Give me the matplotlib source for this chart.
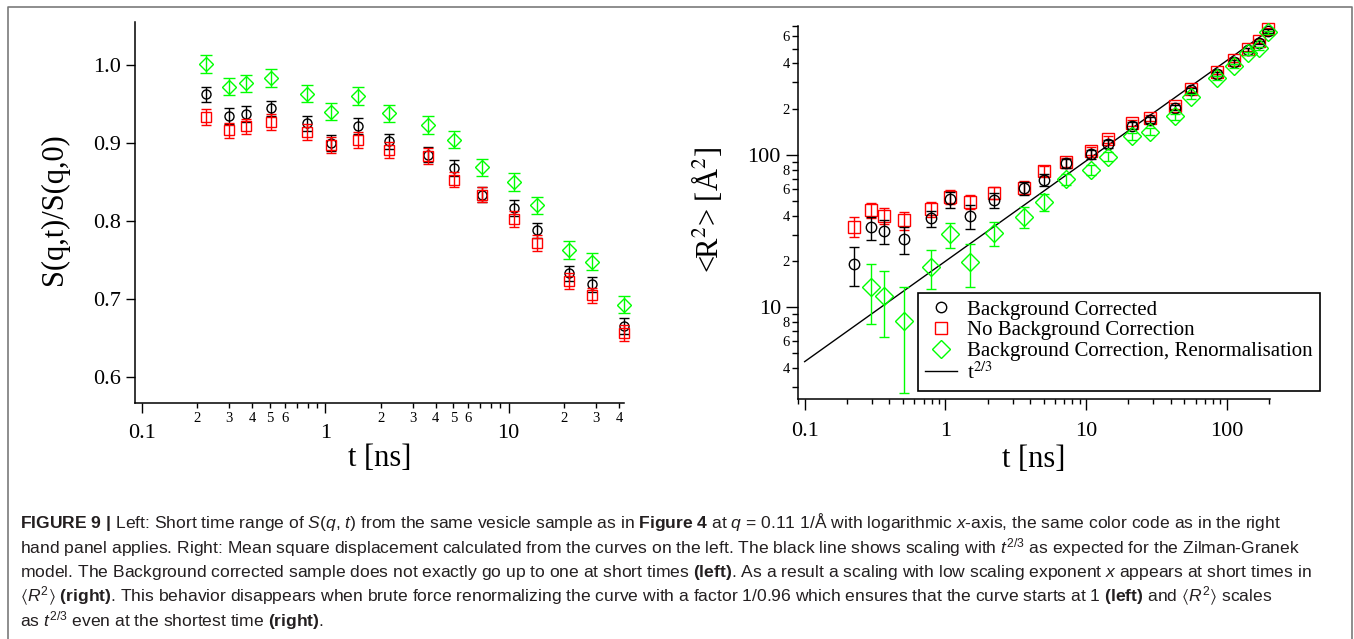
import numpy as np
import matplotlib
matplotlib.use('Agg')
import matplotlib.pyplot as plt
from matplotlib.ticker import LogLocator, FuncFormatter, FixedLocator, NullLocator, NullFormatter
from matplotlib.lines import Line2D

plt.rcParams['font.family'] = ['Liberation Serif', 'DejaVu Serif']
plt.rcParams['mathtext.fontset'] = 'stix'
# custom math fonts are only used by the caption (sans serif)
plt.rcParams['mathtext.rm'] = 'Liberation Sans'
plt.rcParams['mathtext.it'] = 'Liberation Sans:italic'
plt.rcParams['mathtext.bf'] = 'Liberation Sans:bold'
plt.rcParams['mathtext.fallback'] = 'stixsans'

# ---- data ----
# left panel: S(q,t)/S(q,0), short time range
t_short = [0.225, 0.297, 0.368, 0.506, 0.792, 1.07, 1.50, 2.22, 3.62, 5.03,
           7.15, 10.75, 14.25, 21.3, 28.5, 42.5]
s_bg = [0.962, 0.934, 0.937, 0.944, 0.925, 0.900, 0.922, 0.902, 0.885, 0.868,
        0.834, 0.817, 0.788, 0.733, 0.719, 0.666]
s_nobg = [0.933, 0.916, 0.921, 0.927, 0.914, 0.897, 0.904, 0.891, 0.883, 0.853,
          0.834, 0.803, 0.772, 0.723, 0.705, 0.657]
s_renorm = [1.001, 0.972, 0.976, 0.983, 0.963, 0.940, 0.960, 0.938, 0.923, 0.904,
            0.869, 0.850, 0.820, 0.763, 0.748, 0.693]
s_err_bg = [0.010] * 16
s_err_nobg = [0.010] * 16
s_err_renorm = [0.011] * 16

# right panel: mean square displacement
t_long = [0.225, 0.297, 0.368, 0.506, 0.792, 1.07, 1.50, 2.22, 3.62, 5.03,
          7.15, 10.75, 14.25, 21.3, 28.5, 42.5, 56.0, 84.5, 113.0, 141.0, 169.0, 197.0]
r2_bg = [19.3, 33.5, 31.9, 28.1, 38.4, 51.1, 40.0, 50.7, 60.4, 68.5, 88.2,
         101, 118, 156, 170, 205, 267, 340, 408, 489, 546, 652]
r2_nobg = [33.9, 43.5, 40.0, 37.4, 44.2, 53.3, 49.4, 56.6, 61.1, 78.9, 89.5,
           107, 127, 163, 176, 210, 270, 352, 421, 494, 560, 668]
r2_renorm = [np.nan, 13.5, 11.9, 8.13, 18.5, 30.1, 19.9, 30.6, 39.4, 49.4, 69.2,
             79.8, 97.5, 133, 142, 179, 242, 322, 384, 465, 501, 638]
r2_err_bg = [5.5, 5.8, 5.7, 5.6, 4.8, 5.9, 7.3, 5.6, 5.9, 6.0, 6.0,
             6.5, 7.0, 8.0, 8.0, 9.0, 10, 11, 12, 13, 14, 15]
r2_err_nobg = [5.0, 4.8, 5.0, 5.0, 5.0, 5.5, 5.5, 5.5, 6.0, 6.0, 6.0,
               6.5, 7.0, 8.0, 8.0, 9.0, 10, 11, 12, 13, 14, 15]
r2_err_renorm = [np.nan, 5.7, 5.5, 5.4, 5.4, 5.5, 6.2, 5.5, 6.0, 6.3, 5.5,
                 6.0, 6.5, 7.0, 7.5, 8.0, 9.0, 10, 11, 12, 13, 14]
fit_t = [0.1, 197.0]
fit_r2 = [4.4, 652.0]

labels = ['Background Corrected', 'No Background Correction',
          'Background Correction, Renormalisation', 't$^{\\mathrm{2/3}}$']

GREEN = '#00ff00'
RED = '#ff0000'

W, H = 1354, 639
fig = plt.figure(figsize=(W / 100, H / 100), dpi=100)


def px_axes(x0, y0, x1, y1):
    return fig.add_axes([x0 / W, 1 - y1 / H, (x1 - x0) / W, (y1 - y0) / H])


def style(ax):
    for s in ('top', 'right'):
        ax.spines[s].set_visible(False)
    for s in ('left', 'bottom'):
        ax.spines[s].set_linewidth(1.1)
    ax.tick_params(which='both', direction='out', width=1.0, colors='k')


def major_fmt(v, pos):
    return f'{v:g}'


def minor_fmt(keep):
    def f(v, pos):
        m = int(round(v / 10 ** np.floor(np.log10(v) + 1e-9)))
        return str(m) if m in keep else ''
    return FuncFormatter(f)


def ebar(ax, x, y, err, marker, ms, color, cap, z):
    cont = ax.errorbar(x, y, yerr=err, fmt=marker, ms=ms, mfc='none', mec=color,
                       mew=1.0, ecolor=color, elinewidth=1.0, capsize=cap,
                       capthick=1.0, zorder=z)
    # the last points sit on the axis ends, keep them whole
    for art in cont.get_children():
        art.set_clip_on(False)
    return cont


# ---------------- left panel ----------------
ax1 = px_axes(135, 21.7, 624.5, 403.3)
style(ax1)
ebar(ax1, t_short, s_bg, s_err_bg, 'o', 6.5, 'k', 3.5, 3)
ebar(ax1, t_short, s_nobg, s_err_nobg, 's', 6.5, RED, 3.5, 4)
ebar(ax1, t_short, s_renorm, s_err_renorm, 'D', 7.5, GREEN, 4, 5)
ax1.set_xscale('log')
ax1.set_xlim(0.0917, 42.8)
ax1.set_ylim(0.567, 1.055)
ax1.xaxis.set_major_locator(LogLocator(base=10, numticks=10))
ax1.xaxis.set_minor_locator(LogLocator(base=10, subs=np.arange(2, 10), numticks=20))
ax1.xaxis.set_major_formatter(FuncFormatter(major_fmt))
ax1.xaxis.set_minor_formatter(minor_fmt({2, 3, 4, 5, 6}))
ax1.yaxis.set_major_locator(FixedLocator([0.6, 0.7, 0.8, 0.9, 1.0]))
ax1.yaxis.set_major_formatter(FuncFormatter(lambda v, p: f'{v:.1f}'))
ax1.yaxis.set_minor_locator(NullLocator())
ax1.tick_params(axis='x', which='major', length=7.2, pad=8, labelsize=16)
ax1.tick_params(axis='x', which='minor', length=3.6, pad=3, labelsize=10.5)
ax1.tick_params(axis='y', which='major', length=6.5, pad=3.6, labelsize=16)
ax1.set_xlabel('t [ns]', fontsize=22, va='center')
ax1.xaxis.set_label_coords(0.5, -0.145)
ax1.set_ylabel('S(q,t)/S(q,0)', fontsize=22, va='center')
ax1.yaxis.set_label_coords(-0.165, 0.51)

# ---------------- right panel ----------------
ax2 = px_axes(798.2, 26, 1269.8, 399.3)
style(ax2)
h_bg = ebar(ax2, t_long, r2_bg, r2_err_bg, 'o', 7.5, 'k', 3.6, 4)
h_nobg = ebar(ax2, t_long, r2_nobg, r2_err_nobg, 's', 8, RED, 3.6, 3)
h_ren = ebar(ax2, t_long, r2_renorm, r2_err_renorm, 'D', 9, GREEN, 3.6, 5)
h_fit, = ax2.plot(fit_t, fit_r2, color='k', lw=1.0, zorder=2)
ax2.set_xscale('log')
ax2.set_yscale('log')
ax2.set_xlim(0.09, 202)
ax2.set_ylim(2.49, 703)
ax2.xaxis.set_major_locator(LogLocator(base=10, numticks=10))
ax2.xaxis.set_minor_locator(LogLocator(base=10, subs=np.arange(2, 10), numticks=20))
ax2.xaxis.set_major_formatter(FuncFormatter(major_fmt))
ax2.xaxis.set_minor_formatter(NullFormatter())
ax2.yaxis.set_major_locator(LogLocator(base=10, numticks=10))
ax2.yaxis.set_minor_locator(LogLocator(base=10, subs=np.arange(2, 10), numticks=20))
ax2.yaxis.set_major_formatter(FuncFormatter(major_fmt))
ax2.yaxis.set_minor_formatter(minor_fmt({2, 4, 6, 8}))
ax2.tick_params(axis='x', which='major', length=7.7, pad=9, labelsize=16)
ax2.tick_params(axis='x', which='minor', length=3.6)
ax2.tick_params(axis='y', which='major', length=8.4, pad=4, labelsize=16)
ax2.tick_params(axis='y', which='minor', length=4, pad=2, labelsize=10.5)
ax2.set_xlabel('t [ns]', fontsize=22, va='center')
ax2.xaxis.set_label_coords(0.5, -0.16)
ax2.set_ylabel('<R$^2$> [Å$^2$]', fontsize=22, va='center')
ax2.yaxis.set_label_coords(-0.193, 0.507)

leg = ax2.legend([h_bg[0], h_nobg[0], h_ren[0], h_fit], labels,
                 loc='upper left', bbox_to_anchor=(917.7 / W, 1 - 292.7 / H),
                 bbox_transform=fig.transFigure, fontsize=15, frameon=True,
                 fancybox=False, framealpha=1, edgecolor='k', borderpad=0.35,
                 labelspacing=0.05, handlelength=1.55, handletextpad=0.45,
                 borderaxespad=0, numpoints=1)
leg.get_frame().set_linewidth(1.2)

# outer frame
fig.add_artist(Line2D([8 / W, 8 / W, 1352 / W, 1352 / W], [0, 1 - 7 / H, 1 - 7 / H, 0],
                      color='#7a7a7a', lw=1.2, transform=fig.transFigure))

# ---------------- caption ----------------
cap_lines = [
    r'$\mathbf{FIGURE\ 9\ |}$ Left: Short time range of $\mathit{S}$($\mathit{q}$, $\mathit{t}$) '
    r'from the same vesicle sample as in $\mathbf{Figure\ 4}$ at $\mathit{q}$ = 0.11 1/Å with '
    r'logarithmic $\mathit{x}$-axis, the same color code as in the right',
    r'hand panel applies. Right: Mean square displacement calculated from the curves on the left. '
    r'The black line shows scaling with $\mathit{t}^{\mathit{2/3}}$ as expected for the Zilman-Granek',
    r'model. The Background corrected sample does not exactly go up to one at short times '
    r'$\mathbf{(left)}$. As a result a scaling with low scaling exponent $\mathit{x}$ appears at short times in',
    r'$\langle\mathit{R}^{2}\rangle$ $\mathbf{(right)}$. This behavior disappears when brute force '
    r'renormalizing the curve with a factor 1/0.96 which ensures that the curve starts at 1 '
    r'$\mathbf{(left)}$ and $\langle\mathit{R}^{2}\rangle$ scales',
    r'as $\mathit{t}^{\mathit{2/3}}$ even at the shortest time $\mathbf{(right)}$.',
]
cap_base = [528, 553, 577, 602, 626]
cap_texts = []
for line, yb in zip(cap_lines, cap_base):
    cap_texts.append(fig.text(20 / W, 1 - yb / H, line, fontsize=12, family='Liberation Sans',
                              math_fontfamily='custom', color='#231f20', va='baseline', ha='left'))

# fit the caption size to the width of the first line
fig.canvas.draw()
rend = fig.canvas.get_renderer()
w0 = cap_texts[0].get_window_extent(rend).width
fs = 12 * (1278 - 20) / w0
for t in cap_texts:
    t.set_fontsize(fs)

fig.savefig('out.png', dpi=100)
